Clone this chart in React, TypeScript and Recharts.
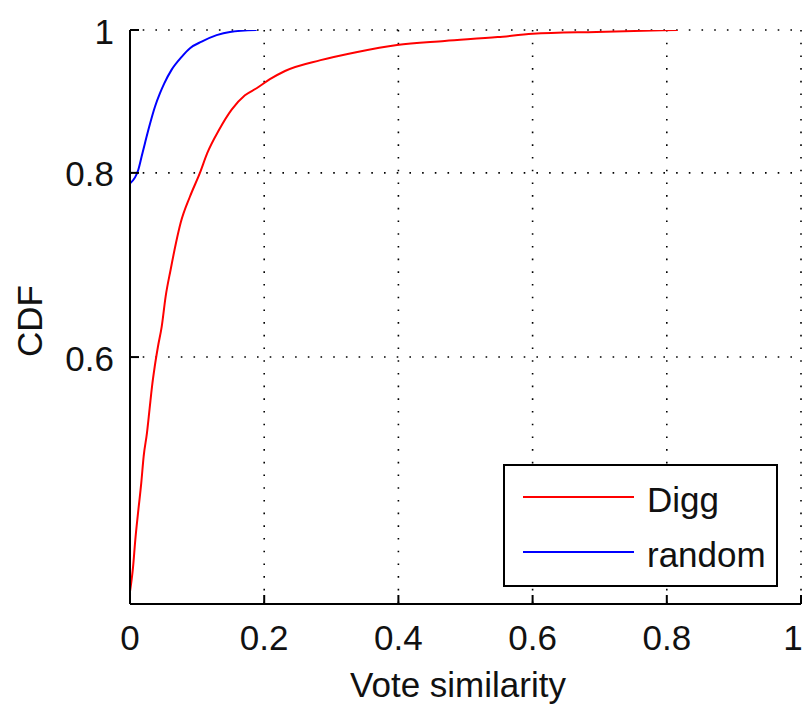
import { CartesianGrid, Label, Legend, Line, LineChart, XAxis, YAxis } from 'recharts'

const xTicks = [0, 0.2, 0.4, 0.6, 0.8, 1]
const yTicks = [0.6, 0.8, 1]

// vote similarity vs cumulative fraction, Digg pairs
const diggSimilarity = [0, 0.0045, 0.0079, 0.0119, 0.0168, 0.0204, 0.0253, 0.0293, 0.0328, 0.0368, 0.0417, 0.0472, 0.0532, 0.0606, 0.0685, 0.0755, 0.0894, 0.1042, 0.1151, 0.133, 0.1515, 0.1713, 0.1887, 0.2085, 0.231, 0.284, 0.337, 0.398, 0.469, 0.548, 0.6, 0.695, 0.816]
const diggCdf = [0.416, 0.432, 0.451, 0.47, 0.493, 0.514, 0.533, 0.554, 0.573, 0.591, 0.61, 0.629, 0.66, 0.688, 0.717, 0.74, 0.771, 0.8, 0.825, 0.856, 0.883, 0.903, 0.913, 0.926, 0.938, 0.954, 0.966, 0.977, 0.983, 0.989, 0.994, 0.997, 1]

// same measure for randomly paired users
const randomSimilarity = [0, 0.0124, 0.0174, 0.0223, 0.0287, 0.0372, 0.0447, 0.0511, 0.0621, 0.077, 0.0894, 0.1068, 0.1291, 0.1489, 0.1887]
const randomCdf = [0.787, 0.804, 0.821, 0.838, 0.86, 0.887, 0.906, 0.92, 0.94, 0.959, 0.972, 0.982, 0.992, 0.997, 1]

const diggData = diggSimilarity.map((x, i) => ({ x, y: diggCdf[i] }))
const randomData = randomSimilarity.map((x, i) => ({ x, y: randomCdf[i] }))

const FONT = '"Liberation Sans", Arial, sans-serif'
const TEXT = '#111'
const TICK = 9
const Y_DOMAIN: [number, number] = [0.408, 1]

const textStyle = { fontFamily: FONT, fontSize: 35, fill: TEXT }

function BottomTick({ x, y, payload }: any) {
  // keep the last label inside the canvas edge
  const shift = payload.value === 1 ? -8 : 0
  return (
    <g>
      <line x1={x} x2={x} y1={y} y2={y - TICK} stroke="#000" strokeWidth={2} />
      <text x={x + shift} y={y + 46} textAnchor="middle" {...textStyle}>
        {String(payload.value)}
      </text>
    </g>
  )
}

function TopTick({ x, y }: any) {
  return <line x1={x} x2={x} y1={y} y2={y + TICK} stroke="#000" strokeWidth={2} />
}

function LeftTick({ x, y, payload }: any) {
  return (
    <g>
      <line x1={x} x2={x + TICK} y1={y} y2={y} stroke="#000" strokeWidth={2} />
      <text x={x - 16} y={y + 13.5} textAnchor="end" {...textStyle}>
        {String(payload.value)}
      </text>
    </g>
  )
}

function RightTick({ x, y }: any) {
  return <line x1={x} x2={x - TICK} y1={y} y2={y} stroke="#000" strokeWidth={2} />
}

function LegendBox({ payload }: any) {
  const items = payload ?? []
  return (
    <svg width={275} height={123} style={{ display: 'block' }}>
      <rect x={1} y={1} width={273} height={121} fill="#fff" stroke="#000" strokeWidth={2} />
      {items.map((item: any, i: number) => {
        const cy = 33 + i * 55
        return (
          <g key={item.value}>
            <line x1={20} x2={131} y1={cy} y2={cy} stroke={item.color} strokeWidth={2} />
            <text x={144} y={cy + 15} {...textStyle}>
              {item.value}
            </text>
          </g>
        )
      })}
    </svg>
  )
}

export default function App() {
  return (
    <div style={{ position: 'absolute', left: 0, top: 0, width: 805, height: 706, background: '#fff' }}>
      <LineChart width={805} height={706} margin={{ top: 30, right: 4, bottom: 0, left: 0 }}>
        <CartesianGrid stroke="#000" strokeWidth={1.6} strokeDasharray="1.6 11.1" />
        <XAxis
          dataKey="x"
          type="number"
          domain={[0, 1]}
          ticks={xTicks}
          height={102}
          tickSize={0}
          tickMargin={0}
          tick={<BottomTick />}
          axisLine={{ stroke: '#000', strokeWidth: 2 }}
          tickLine={false}
          allowDataOverflow
        >
          <Label
            content={() => (
              <text x={458} y={697} textAnchor="middle" {...textStyle}>
                Vote similarity
              </text>
            )}
          />
        </XAxis>
        <XAxis
          xAxisId="top"
          orientation="top"
          dataKey="x"
          type="number"
          domain={[0, 1]}
          ticks={xTicks}
          height={0}
          tickSize={0}
          tickMargin={0}
          tick={<TopTick />}
          axisLine={{ stroke: '#000', strokeWidth: 2 }}
          tickLine={false}
          allowDataOverflow
        />
        <YAxis
          dataKey="y"
          type="number"
          scale="log"
          domain={Y_DOMAIN}
          ticks={yTicks}
          width={130}
          tickSize={0}
          tickMargin={0}
          tick={<LeftTick />}
          axisLine={{ stroke: '#000', strokeWidth: 2 }}
          tickLine={false}
          allowDataOverflow
        >
          <Label
            content={() => (
              <text x={42} y={321} textAnchor="middle" transform="rotate(-90, 42, 321)" {...textStyle}>
                CDF
              </text>
            )}
          />
        </YAxis>
        <YAxis
          yAxisId="right"
          orientation="right"
          dataKey="y"
          type="number"
          scale="log"
          domain={Y_DOMAIN}
          ticks={yTicks}
          width={0}
          tickSize={0}
          tickMargin={0}
          tick={<RightTick />}
          axisLine={{ stroke: '#000', strokeWidth: 2 }}
          tickLine={false}
          allowDataOverflow
        />
        <Line
          data={diggData}
          dataKey="y"
          name="Digg"
          type="monotone"
          stroke="#ff0000"
          strokeWidth={2}
          dot={false}
          isAnimationActive={false}
        />
        <Line
          data={randomData}
          dataKey="y"
          name="random"
          type="monotone"
          stroke="#0000ff"
          strokeWidth={2}
          dot={false}
          isAnimationActive={false}
        />
        <Legend
          layout="vertical"
          align="center"
          verticalAlign="middle"
          content={<LegendBox />}
          wrapperStyle={{ left: 503, top: 464, width: 275, height: 123 }}
        />
      </LineChart>
    </div>
  )
}
